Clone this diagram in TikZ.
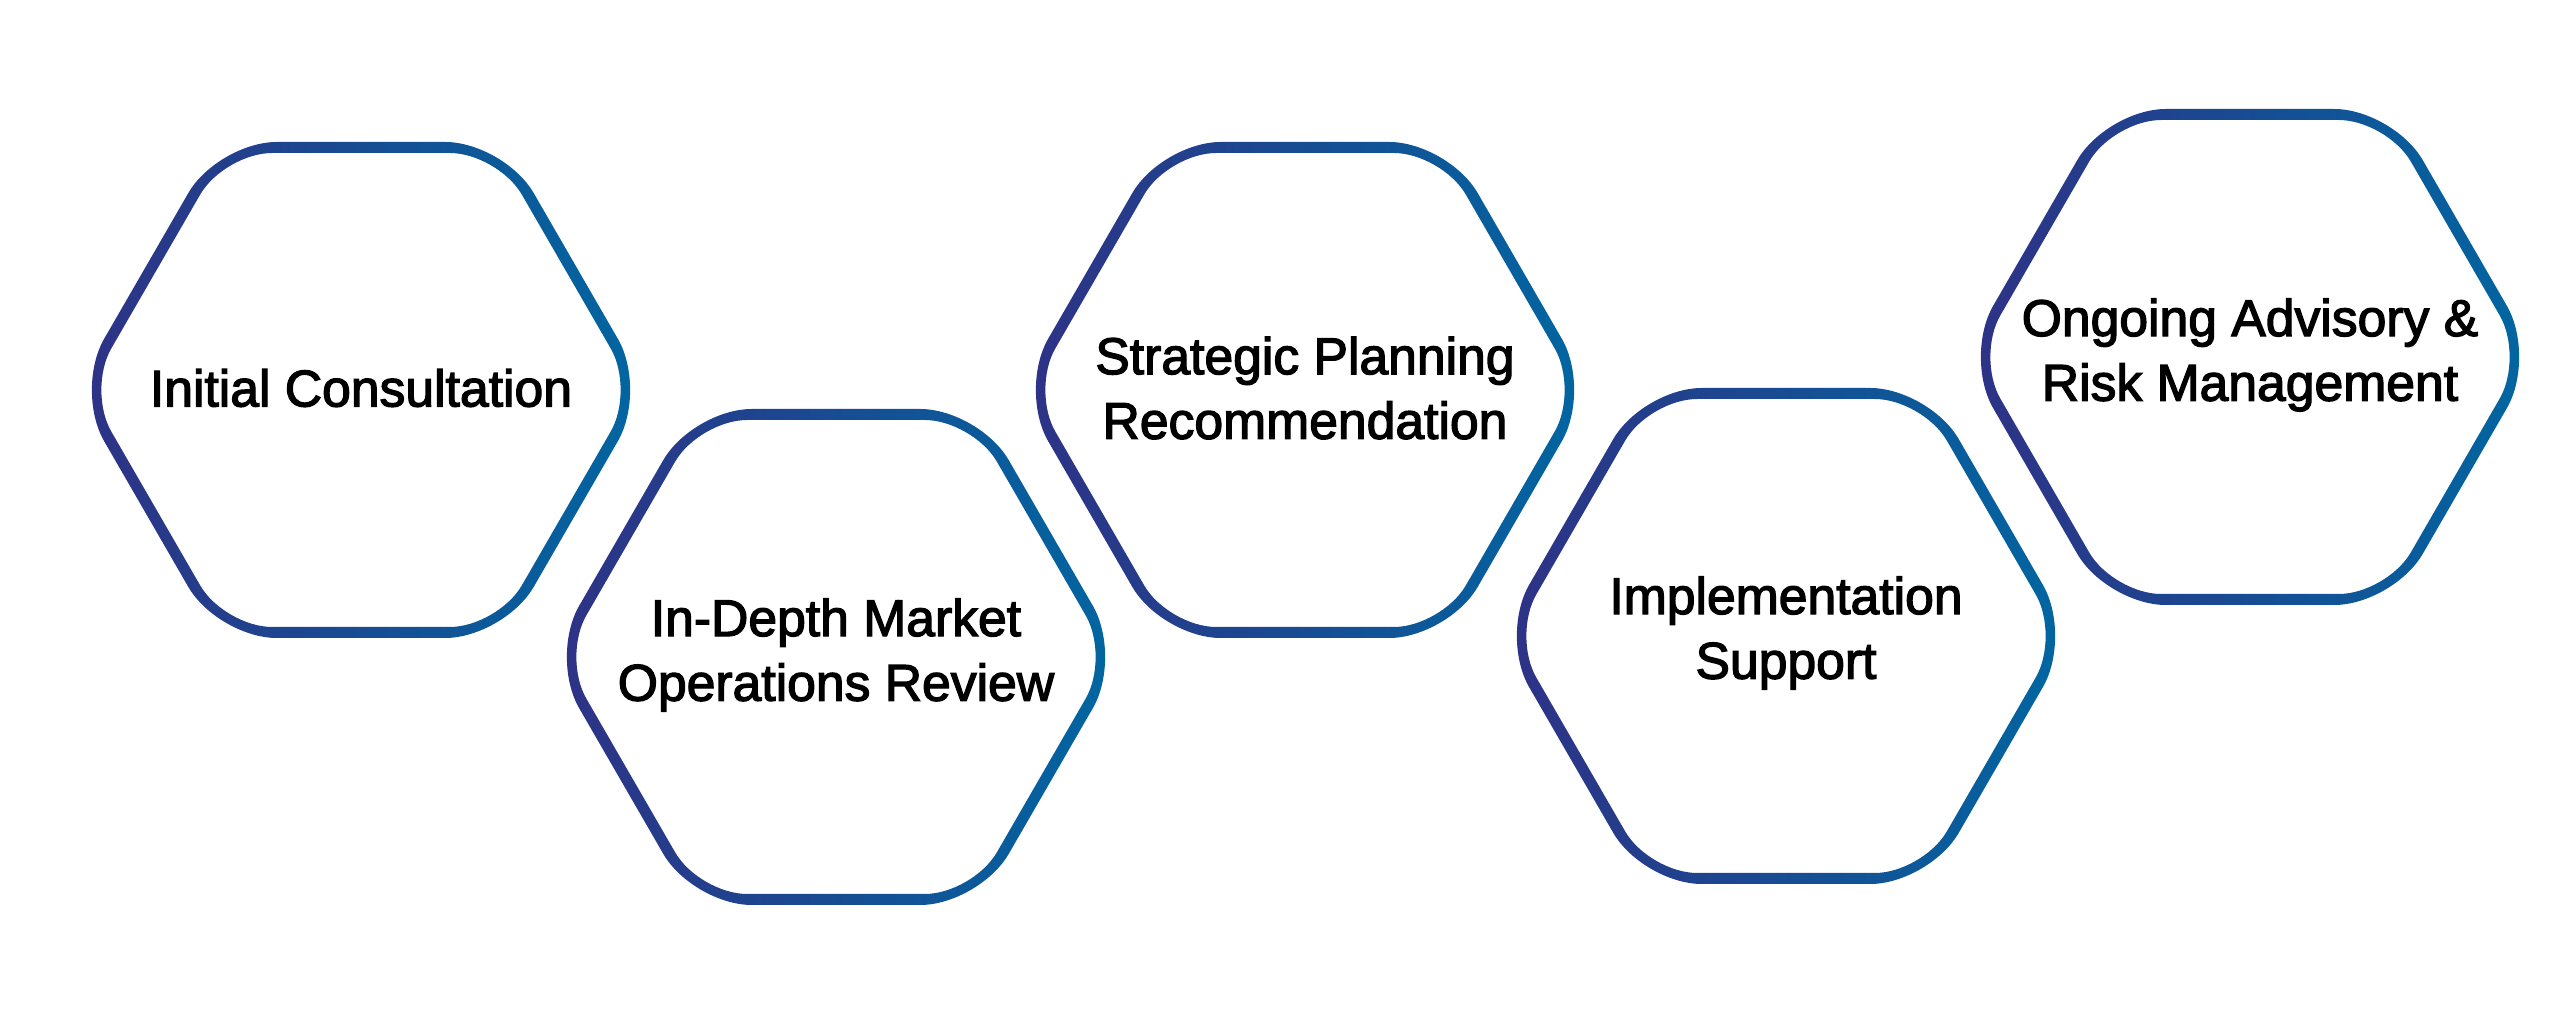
\documentclass[tikz,border=0pt]{standalone}
\usepackage{fontspec}
\newfontfamily\hexfont{Liberation Sans}[FakeBold=2.5]
\definecolor{hexL}{RGB}{47,49,133}
\definecolor{hexR}{RGB}{0,103,161}
% #1 = centre x, #2 = centre y (pixels, y downwards)
\newcommand{\hexring}[2]{%
  \shade[left color=hexL, right color=hexR, even odd rule]
    (#1,#2-248) [rounded corners=5.9mm]
      -- (#1+143.2,#2-248) -- (#1+286.4,#2) -- (#1+143.2,#2+248)
      -- (#1-143.2,#2+248) -- (#1-286.4,#2) -- (#1-143.2,#2-248) -- cycle
    (#1,#2-237) [rounded corners=4.8mm]
      -- (#1+136.8,#2-237) -- (#1+273.7,#2) -- (#1+136.8,#2+237)
      -- (#1-136.8,#2+237) -- (#1-273.7,#2) -- (#1-136.8,#2-237) -- cycle;}
\begin{document}
\begin{tikzpicture}[x=0.1mm,y=-0.1mm,
  lbl/.style={font=\hexfont\fontsize{14.7pt}{18.4pt}\selectfont,
              align=center, text=black, inner sep=0pt}]
\fill[white] (0,0) rectangle (2560,1016);
\useasboundingbox (0,0) rectangle (2560,1016);

\hexring{361}{390}
\hexring{836}{657}
\hexring{1305}{390}
\hexring{1786}{636}
\hexring{2250}{357}

\node[lbl] (h1) at (361,388) {Initial Consultation};
\node[lbl] (h2) at (836,655) {In-Depth Market\\Operations Review};
\node[lbl] (h3) at (1305,388) {Strategic Planning\\Recommendation};
\node[lbl] (h4) at (1786,633) {Implementation\\Support};
\node[lbl] (h5) at (2250,355) {Ongoing Advisory \&\\Risk Management};
\end{tikzpicture}
\end{document}
